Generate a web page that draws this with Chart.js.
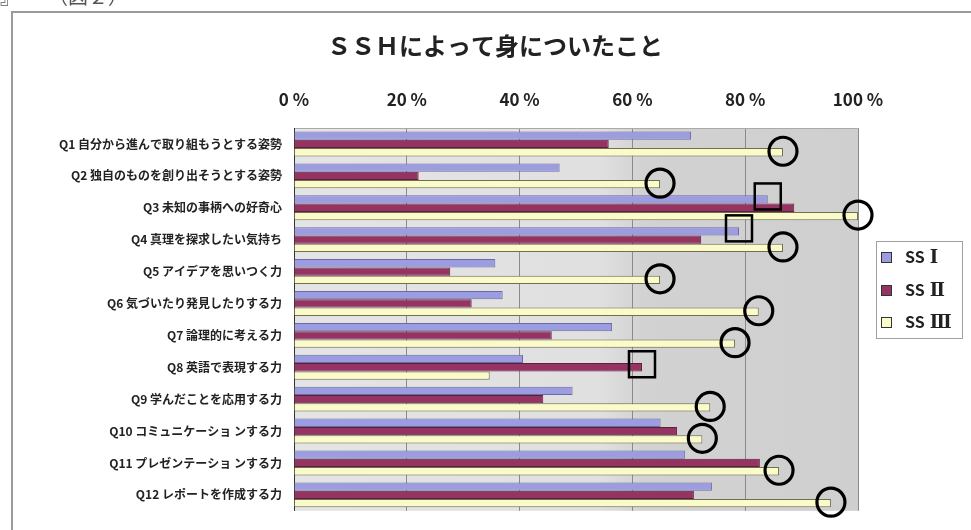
<!DOCTYPE html>
<html><head><meta charset="utf-8">
<script src="https://cdn.jsdelivr.net/npm/chart.js@4/dist/chart.umd.min.js"></script>
<style>html,body{margin:0;padding:0;background:#fff;overflow:hidden;}</style>
</head><body>
<canvas id="c" width="971" height="530" style="display:block;width:971px;height:530px"></canvas>
<script>
const titleText = 'ＳＳＨによって身についたこと';
const categories = [
  'Q1 自分から進んで取り組もうとする姿勢',
  'Q2 独自のものを創り出そうとする姿勢',
  'Q3 未知の事柄への好奇心',
  'Q4 真理を探求したい気持ち',
  'Q5 アイデアを思いつく力',
  'Q6 気づいたり発見したりする力',
  'Q7 論理的に考える力',
  'Q8 英語で表現する力',
  'Q9 学んだことを応用する力',
  'Q10 コミュニケーショ ンする力',
  'Q11 プレゼンテーショ ンする力',
  'Q12 レポートを作成する力'
];
const seriesNames = ['SSⅠ', 'SSⅡ', 'SSⅢ'];
const ss1 = [70.4, 47.1, 84.0, 78.9, 35.7, 37.0, 56.4, 40.6, 49.4, 65.0, 69.3, 74.1];
const ss2 = [55.8, 22.1, 88.7, 72.2, 27.7, 31.5, 45.7, 61.7, 44.2, 67.9, 82.6, 70.9];
const ss3 = [86.7, 64.9, 100.0, 86.7, 64.9, 82.4, 78.2, 34.7, 73.8, 72.4, 86.0, 95.2];
const xTickValues = [0, 20, 40, 60, 80, 100];
const xTickLabels = ['0 %', '20 %', '40 %', '60 %', '80 %', '100 %'];
const circleMarks = [0, 1, 2, 3, 4, 5, 6, 8, 9, 10, 11]; // category indices, on SSⅢ bars
const squareMarks = [[2, 0], [3, 0], [7, 1]];            // [category index, series index]

const fills = ['#9c9ce0', '#953462', '#fbfbca'];
const borders = ['#6a6aa4', '#5e1e3c', '#6e6e52'];
const CJK = '"Noto Sans CJK JP", "Noto Sans", sans-serif';

const bgPlugin = {
  id: 'bg',
  beforeDraw(chart) {
    const {ctx, chartArea: a, scales: {x}} = chart;
    const g = ctx.createLinearGradient(a.left, 0, a.right, 0);
    const p = v => (x.getPixelForValue(v) - a.left) / (a.right - a.left);
    g.addColorStop(0, '#e4e4e4');
    g.addColorStop(p(54), '#e0e0e0');
    g.addColorStop(p(62), '#d2d2d2');
    g.addColorStop(1, '#cfcfcf');
    ctx.save();
    ctx.fillStyle = g;
    ctx.fillRect(a.left, a.top, a.right - a.left, a.bottom - a.top);
    ctx.restore();
  }
};

const marksPlugin = {
  id: 'marks',
  afterDatasetsDraw(chart) {
    const ctx = chart.ctx;
    ctx.save();
    ctx.strokeStyle = '#000';
    ctx.lineWidth = 3.2;
    circleMarks.forEach(i => {
      const bar = chart.getDatasetMeta(2).data[i];
      ctx.beginPath();
      ctx.arc(bar.x, bar.y - 1, 14, 0, Math.PI * 2);
      ctx.stroke();
    });
    ctx.lineWidth = 2.5;
    squareMarks.forEach(([i, s]) => {
      const bar = chart.getDatasetMeta(s).data[i];
      ctx.strokeRect(bar.x - 13, bar.y - 16, 26, 26);
    });
    ctx.restore();
  }
};

const framePlugin = {
  id: 'frame',
  afterDraw(chart) {
    const ctx = chart.ctx;
    ctx.save();
    ctx.strokeStyle = '#9a9a9a';
    ctx.lineWidth = 2;
    ctx.strokeRect(12, 12, 1000, 600);
    // header fragment above the frame
    ctx.fillStyle = '#555';
    ctx.font = '20px ' + CJK;
    ctx.textBaseline = 'alphabetic';
    ctx.fillText('』', 0, 4);
    ctx.fillText('（図２）', 48, 4);
    // chart title
    ctx.fillStyle = '#222';
    ctx.font = 'bold 24px ' + CJK;
    ctx.textAlign = 'center';
    ctx.textBaseline = 'middle';
    ctx.fillText(titleText, 495, 46);
    ctx.textAlign = 'left';
    // legend
    const L = {x: 876, y: 241, w: 86, h: 97};
    ctx.fillStyle = '#fff';
    ctx.fillRect(L.x, L.y, L.w, L.h);
    ctx.strokeStyle = '#a0a0a0';
    ctx.lineWidth = 1;
    ctx.strokeRect(L.x + 0.5, L.y + 0.5, L.w, L.h);
    const rows = [257, 290, 322];
    ctx.textBaseline = 'middle';
    chart.data.datasets.forEach((ds, k) => {
      const y = rows[k];
      ctx.fillStyle = ds.backgroundColor;
      ctx.fillRect(881, y - 5, 10, 10);
      ctx.strokeStyle = '#333';
      ctx.strokeRect(881.5, y - 4.5, 10, 10);
      ctx.fillStyle = '#222';
      const head = ds.label.slice(0, 2);
      const num = ds.label.slice(2);
      ctx.font = 'bold 16px ' + CJK;
      ctx.fillText(head, 905, y);
      const w = ctx.measureText(head).width;
      ctx.font = 'bold 18px "DejaVu Serif", serif';
      ctx.fillText(num, 905 + w + 5, y + 1);
    });
    ctx.restore();
  }
};

new Chart(document.getElementById('c'), {
  type: 'bar',
  data: {
    labels: categories,
    datasets: [ss1, ss2, ss3].map((d, k) => ({
      label: seriesNames[k],
      data: d,
      backgroundColor: fills[k],
      borderColor: borders[k],
      borderWidth: 1,
      categoryPercentage: 0.78,
      barPercentage: 1.0
    }))
  },
  options: {
    indexAxis: 'y',
    responsive: false,
    animation: false,
    devicePixelRatio: 1,
    layout: {padding: {left: 0, right: 113, top: 88, bottom: 18}},
    plugins: {
      legend: {display: false},
      tooltip: {enabled: false},
      title: {display: false}
    },
    scales: {
      x: {
        position: 'top',
        min: 0, max: 100,
        afterBuildTicks(scale) { scale.ticks = xTickValues.map(v => ({value: v})); },
        afterFit(scale) { scale.height = 40; },
        ticks: {
          padding: 18,
          color: '#222',
          font: {family: CJK, size: 17, weight: 'bold'},
          callback: v => xTickLabels[xTickValues.indexOf(v)]
        },
        grid: {color: '#8a8a8a', lineWidth: 1, drawTicks: false},
        border: {display: true, color: '#aaaaaa'}
      },
      y: {
        afterFit(scale) { scale.width = 294; },
        ticks: {
          padding: 12,
          color: '#222',
          font: {family: CJK, size: 12, weight: 'bold'}
        },
        grid: {display: false, drawTicks: false},
        border: {display: true, color: '#333', width: 1}
      }
    }
  },
  plugins: [bgPlugin, marksPlugin, framePlugin]
});
</script>
</body></html>
